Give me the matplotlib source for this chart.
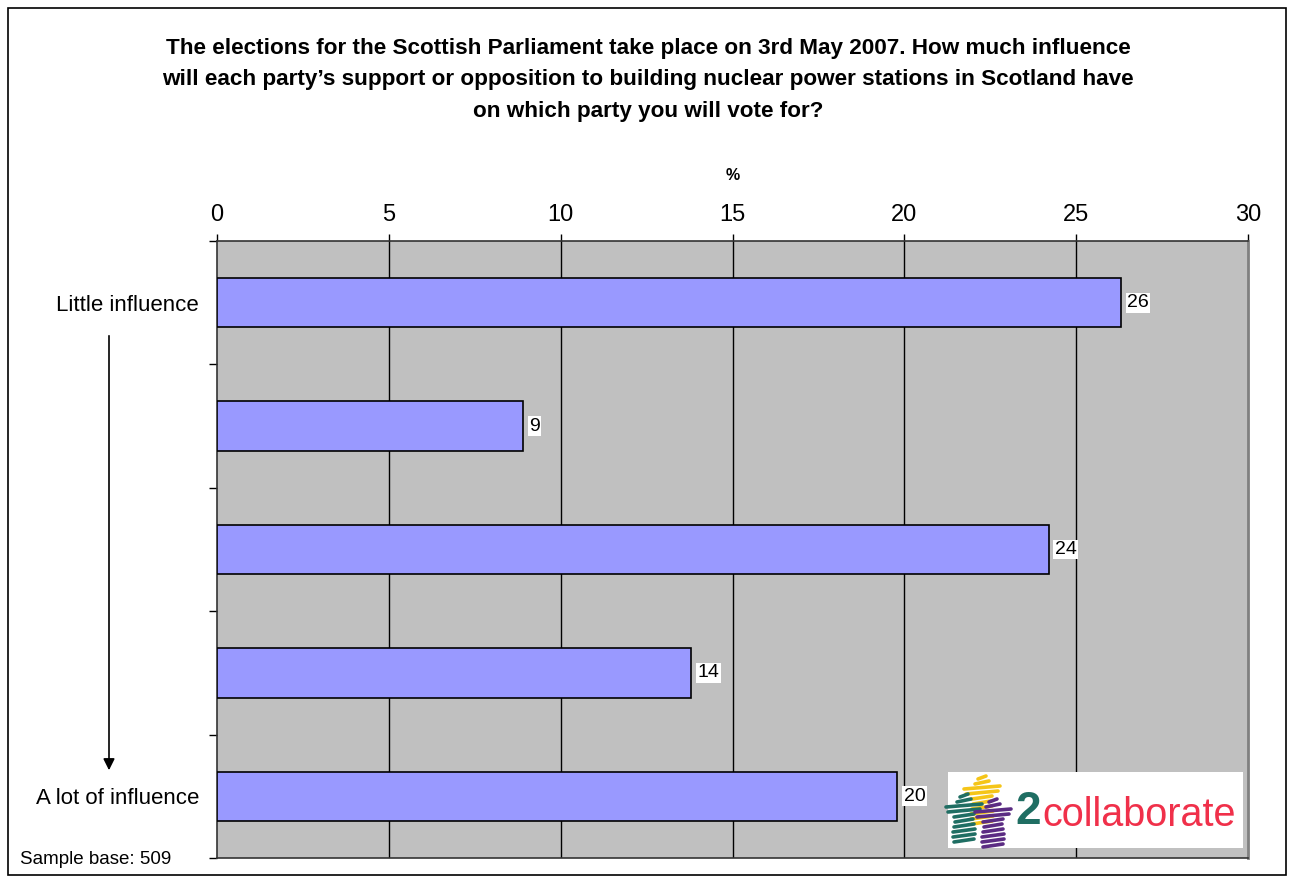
import matplotlib
matplotlib.use("Agg")
import matplotlib.pyplot as plt
from matplotlib.patches import Rectangle, FancyArrowPatch
from matplotlib.lines import Line2D

plt.rcParams['font.family'] = ['Liberation Sans', 'DejaVu Sans']

# survey results, % of respondents per point on the scale
categories = ["Little influence", "", "", "", "A lot of influence"]
values = [26.3, 8.9, 24.2, 13.8, 19.8]
xticks = [0, 5, 10, 15, 20, 25, 30]

title = ("The elections for the Scottish Parliament take place on 3rd May 2007. How much influence\n"
         "will each party\u2019s support or opposition to building nuclear power stations in Scotland have\n"
         "on which party you will vote for?")

fig = plt.figure(figsize=(12.94, 8.76), dpi=100)
W, H = 1294, 876

def fx(px):
    return px / W

def fy(py):
    return 1 - py / H

ax = fig.add_axes([fx(217), fy(858), fx(1248) - fx(217), fy(241) - fy(858)])
ax.set_facecolor('#C0C0C0')

ypos = list(range(len(categories)))
ax.barh(ypos, values, height=0.4, color='#9999FF', edgecolor='black', linewidth=1.2, zorder=3)
for y, v in zip(ypos, values):
    ax.text(v + 0.18, y, f"{v:.0f}", va='center', ha='left', fontsize=14,
            bbox=dict(facecolor='white', edgecolor='none', pad=1.0), zorder=4)

ax.set_xlim(0, 30)
ax.set_ylim(len(categories) - 0.5, -0.5)
ax.set_xticks(xticks)
ax.xaxis.tick_top()
ax.tick_params(axis='x', direction='out', length=5, pad=6, labelsize=17, width=1)
ax.set_yticks(ypos)
ax.set_yticklabels(categories)
ax.set_yticks([i + 0.5 for i in range(-1, len(categories))], minor=True)
ax.tick_params(axis='y', which='major', length=0, pad=13, labelsize=16)
ax.tick_params(axis='y', which='minor', direction='out', length=6, width=1)
ax.tick_params(axis='x', which='minor', length=0)

for t in xticks[1:-1]:
    ax.axvline(t, color='black', linewidth=1, zorder=1)

for side in ('left', 'top', 'bottom'):
    ax.spines[side].set_color('#333333')
    ax.spines[side].set_linewidth(1.2)
ax.spines['right'].set_color('#808080')
ax.spines['right'].set_linewidth(2)

fig.text(fx(733), fy(175), "%", ha='center', va='center', fontsize=11.5, fontweight='bold')
fig.text(fx(648), fy(80), title, ha='center', va='center', fontsize=16.2,
         fontweight='bold', linespacing=1.68)
fig.text(fx(20), fy(860), "Sample base: 509", ha='left', va='center', fontsize=13.5)

# downward arrow from the top label to the bottom label
fig.add_artist(FancyArrowPatch(
    (fx(109), fy(333)), (fx(109), fy(773)), transform=fig.transFigure,
    arrowstyle='-|>', mutation_scale=17, color='black', linewidth=1.2))

# logo box
fig.add_artist(Rectangle((fx(948), fy(848)), fx(1243) - fx(948), fy(772) - fy(848),
                         transform=fig.transFigure, facecolor='white', edgecolor='none', zorder=5))

# scribbled figures: (centre x, top y, colour), each drawn as stacked strokes
figures = [(982, 777, '#F5C518'), (964, 795, '#1F6E63'), (993, 800, '#5B2C83')]
shape = [(4, 0), (7, 5), (18, 10), (16, 15), (10, 20), (9, 25), (10, 30),
         (11, 35), (11, 40), (10, 45)]
for cx, top, c in figures:
    for half, dy in shape:
        if top + dy > 846:
            continue
        fig.add_artist(Line2D([fx(cx - half), fx(cx + half)],
                              [fy(top + dy + 2), fy(top + dy - 1)],
                              transform=fig.transFigure, color=c, linewidth=2.6,
                              solid_capstyle='round', zorder=6))
fig.text(fx(1015), fy(812), "2", ha='left', va='center', fontsize=33, fontweight='bold',
         color='#1F6E63', zorder=7)
fig.text(fx(1042), fy(815), "collaborate", ha='left', va='center', fontsize=28.5,
         color='#F0304A', zorder=7)

# outer frame
fig.add_artist(Rectangle((fx(8), fy(875)), fx(1286) - fx(8), fy(8) - fy(875),
                         transform=fig.transFigure, facecolor='none', edgecolor='black',
                         linewidth=1.2))

fig.savefig("out.png", dpi=100)
